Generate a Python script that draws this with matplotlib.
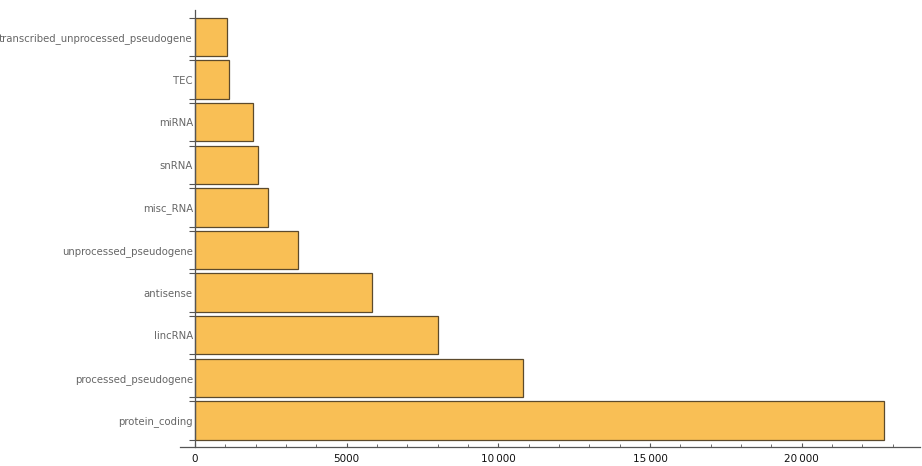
import matplotlib
matplotlib.use("Agg")
import matplotlib.pyplot as plt
from matplotlib.ticker import MultipleLocator, FixedLocator

# gene biotypes, bottom to top
biotypes = [
    "protein_coding",
    "processed_pseudogene",
    "lincRNA",
    "antisense",
    "unprocessed_pseudogene",
    "misc_RNA",
    "snRNA",
    "miRNA",
    "TEC",
    "transcribed_unprocessed_pseudogene",
]
counts = [22716, 10825, 8020, 5842, 3399, 2409, 2079, 1914, 1122, 1056]

bar_color = "#f9bf55"
edge_color = "#5c4a2c"
axis_color = "#555555"

fig = plt.figure(figsize=(9.22, 4.66), dpi=100)
ax = fig.add_axes([180 / 922, 19 / 466, 740 / 922, 437 / 466])

pos = list(range(len(biotypes)))
bar_h = 0.9
ax.barh(pos, counts, height=bar_h, color=bar_color, edgecolor=edge_color, linewidth=0.9)

ax.set_xlim(-490, 23900)
ax.set_ylim(-0.622, len(biotypes) - 1 + 0.634)

for side in ("top", "right"):
    ax.spines[side].set_visible(False)
ax.spines["left"].set_position(("data", 0))
ax.spines["left"].set_color(axis_color)
ax.spines["bottom"].set_color(axis_color)
ax.spines["left"].set_linewidth(0.9)
ax.spines["bottom"].set_linewidth(0.9)

# x axis: majors every 5000, minors every 1000, ticks pointing in
ax.xaxis.set_major_locator(MultipleLocator(5000))
ax.xaxis.set_minor_locator(MultipleLocator(1000))
ax.xaxis.set_major_formatter(lambda v, p: f"{int(v):,}".replace(",", "\u2009") if v >= 10000 else f"{int(v)}")
ax.tick_params(axis="x", which="major", direction="in", length=3, width=0.8,
               color=axis_color, labelsize=7.5, labelcolor="#111111", pad=5)
ax.tick_params(axis="x", which="minor", direction="in", length=2, width=0.6, color=axis_color)

# y axis: labels at bar centres, tick marks at bar edges
ax.yaxis.set_major_locator(FixedLocator(pos))
ax.set_yticklabels(biotypes)
edges = [p - bar_h / 2 for p in pos] + [p + bar_h / 2 for p in pos]
ax.yaxis.set_minor_locator(FixedLocator(edges))
ax.tick_params(axis="y", which="major", length=0, labelsize=7.3, labelcolor="#666666", pad=1.5)
ax.tick_params(axis="y", which="minor", direction="out", length=4.3, width=0.8, color=axis_color)

fig.savefig("out.png", dpi=100)
